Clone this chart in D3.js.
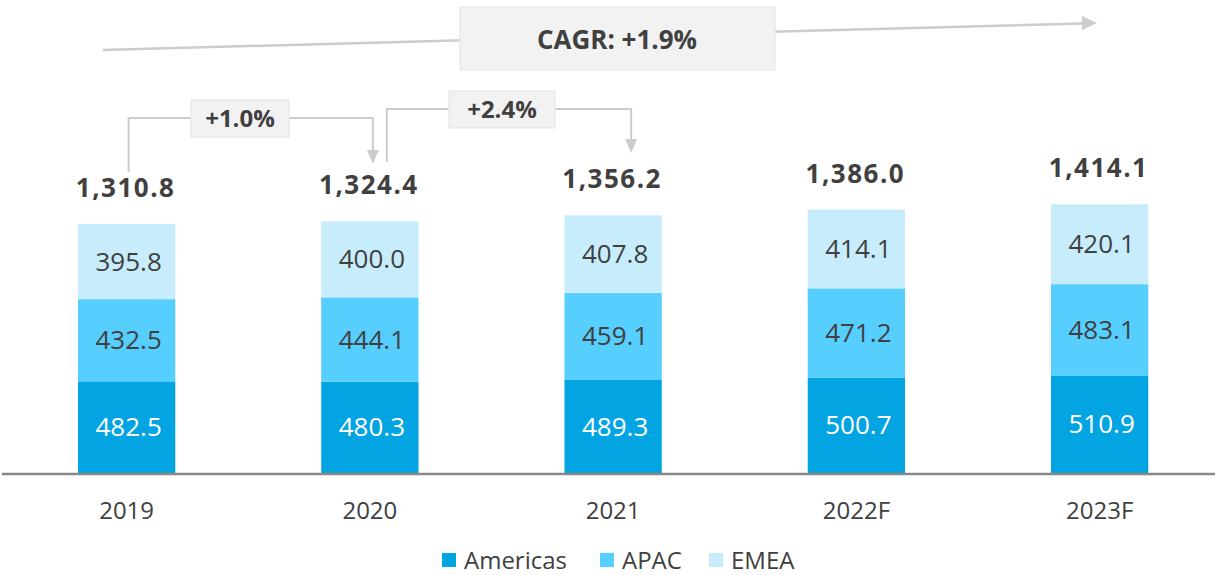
<!DOCTYPE html>
<html>
<head>
<meta charset="utf-8">
<script src="https://cdn.jsdelivr.net/npm/d3@7"></script>
<style>
  body { margin: 0; background: #fff; }
  svg text { font-family: "Open Sans", sans-serif; fill: #404040; }
</style>
</head>
<body>
<svg id="chart" width="1215" height="575"></svg>
<script>
const years = ['2019', '2020', '2021', '2022F', '2023F'];
const americas = [482.5, 480.3, 489.3, 500.7, 510.9];
const apac = [432.5, 444.1, 459.1, 471.2, 483.1];
const emea = [395.8, 400.0, 407.8, 414.1, 420.1];
const totals = [1310.8, 1324.4, 1356.2, 1386.0, 1414.1];
const seriesNames = ['Americas', 'APAC', 'EMEA'];
const growthLabels = ['+1.0%', '+2.4%'];
const cagrLabel = 'CAGR: +1.9%';

const colors = {Americas: '#03a4e2', APAC: '#56cffe', EMEA: '#c7edfc'};
const labelColors = {Americas: '#ffffff', APAC: '#404040', EMEA: '#404040'};

const svg = d3.select('#chart');
const baseY = 473;

const rows = years.map((y, i) => ({
  year: y, Americas: americas[i], APAC: apac[i], EMEA: emea[i], total: totals[i]
}));

const x = d3.scaleBand()
  .domain(years)
  .range([5, 1221.25])
  .paddingInner(0.6)
  .paddingOuter(0.3);

const y = d3.scaleLinear()
  .domain([0, 1500])
  .range([baseY, baseY - 1500 * 0.19]);

const stacked = d3.stack().keys(seriesNames)(rows);

const layer = svg.selectAll('.layer')
  .data(stacked)
  .enter()
  .append('g')
  .attr('class', 'layer');

layer.selectAll('rect')
  .data((d) => d.map((p) => ({p, key: d.key})))
  .enter()
  .append('rect')
  .attr('x', (d) => x(d.p.data.year))
  .attr('y', (d) => y(d.p[1]))
  .attr('width', x.bandwidth())
  .attr('height', (d) => y(d.p[0]) - y(d.p[1]))
  .attr('fill', (d) => colors[d.key]);

layer.selectAll('text')
  .data((d) => d.map((p) => ({p, key: d.key})))
  .enter()
  .append('text')
  .attr('x', (d) => x(d.p.data.year) + x.bandwidth() / 2 + 2)
  .attr('y', (d) => (y(d.p[0]) + y(d.p[1])) / 2 + 9)
  .attr('text-anchor', 'middle')
  .style('font-size', '26px')
  .style('fill', (d) => labelColors[d.key])
  .text((d) => d.p.data[d.key].toFixed(1));

// totals
svg.selectAll('.total')
  .data(rows)
  .enter()
  .append('text')
  .attr('class', 'total')
  .attr('x', (d) => x(d.year) + x.bandwidth() / 2 - 1)
  .attr('y', (d) => y(d.total) - 27)
  .attr('text-anchor', 'middle')
  .style('font-size', '26px')
  .style('font-weight', 'bold')
  .style('letter-spacing', '1.5px')
  .text((d) => d3.format(',.1f')(d.total));

// axis line
svg.append('line')
  .attr('x1', 2).attr('x2', 1215)
  .attr('y1', baseY + 1).attr('y2', baseY + 1)
  .attr('stroke', '#888').attr('stroke-width', 2.5);

// category labels
svg.selectAll('.cat')
  .data(years)
  .enter()
  .append('text')
  .attr('x', (d) => x(d) + x.bandwidth() / 2)
  .attr('y', 519)
  .attr('text-anchor', 'middle')
  .style('font-size', '24px')
  .text((d) => d);

// legend
const legendX = [442, 600, 709];
const legend = svg.selectAll('.legend')
  .data(seriesNames)
  .enter()
  .append('g')
  .attr('transform', (d, i) => `translate(${legendX[i]}, 553)`);
legend.append('rect')
  .attr('width', 14).attr('height', 14)
  .attr('fill', (d) => colors[d]);
legend.append('text')
  .attr('x', 22).attr('y', 16)
  .style('font-size', '24px')
  .text((d) => d);

// annotations
const lineColor = '#cccccc';
const cx = (i) => x(years[i]) + x.bandwidth() / 2;

function arrowDown(g, ax, tipY) {
  g.append('path')
    .attr('d', `M${ax - 6},${tipY - 14}L${ax + 6},${tipY - 14}L${ax},${tipY}Z`)
    .attr('fill', lineColor);
}

function growthBracket(i, fromY, topY, fromDx, toDx, tipY, boxX, boxW, label) {
  const g = svg.append('g');
  const x0 = cx(i) + fromDx;
  const x1 = cx(i + 1) + toDx;
  g.append('path')
    .attr('d', `M${x0},${fromY}V${topY}H${x1}V${tipY - 12}`)
    .attr('fill', 'none')
    .attr('stroke', lineColor)
    .attr('stroke-width', 2);
  arrowDown(g, x1, tipY);
  g.append('rect')
    .attr('x', boxX).attr('y', topY - 18)
    .attr('width', boxW).attr('height', 37)
    .attr('fill', '#f2f2f2').attr('stroke', '#e3e3e3');
  g.append('text')
    .attr('x', boxX + boxW / 2).attr('y', topY + 9)
    .attr('text-anchor', 'middle')
    .style('font-size', '24px')
    .style('font-weight', 'bold')
    .text(label);
}

growthBracket(0, 172, 118, 2, 3, 164, 191, 98, growthLabels[0]);
growthBracket(1, 162, 109, 17, 18, 153, 449, 106, growthLabels[1]);

// CAGR arrow
const cagr = svg.append('g');
cagr.append('line')
  .attr('x1', 103).attr('y1', 50)
  .attr('x2', 1083).attr('y2', 23.4)
  .attr('stroke', lineColor).attr('stroke-width', 2.5);
cagr.append('path')
  .attr('d', 'M1097,23L1082,16L1082,30Z')
  .attr('fill', lineColor);
cagr.append('rect')
  .attr('x', 460).attr('y', 7)
  .attr('width', 315).attr('height', 63)
  .attr('fill', '#f2f2f2').attr('stroke', '#e3e3e3');
cagr.append('text')
  .attr('x', 617).attr('y', 49)
  .attr('text-anchor', 'middle')
  .style('font-size', '26px')
  .style('font-weight', 'bold')
  .text(cagrLabel);
</script>
</body>
</html>
